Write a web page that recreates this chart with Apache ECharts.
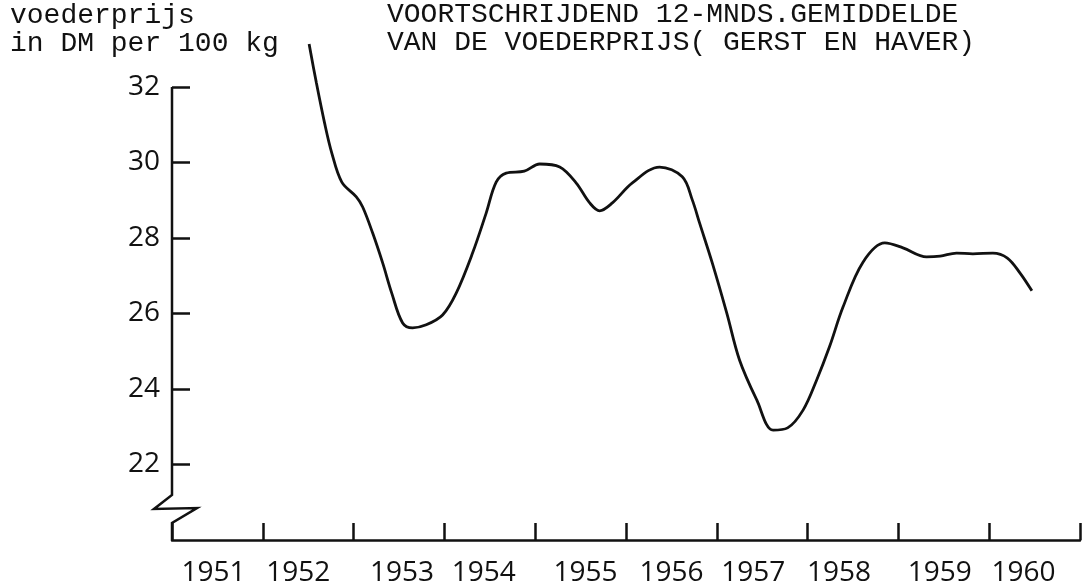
<!DOCTYPE html>
<html>
<head>
<meta charset="utf-8">
<script src="https://cdn.jsdelivr.net/npm/echarts@6/dist/echarts.min.js"></script>
<style>
html,body{margin:0;padding:0;background:#fff;}
#c{width:1082px;height:587px;}
</style>
</head>
<body>
<div id="c"></div>
<script>
// ---- data ----
const yearLabels = ['1951','1952','1953','1954','1955','1956','1957','1958','1959','1960'];
const yTicks = [22, 24, 26, 28, 30, 32];
const time = [1952.51,1952.59,1952.68,1952.76,1952.87,1953.03,1953.10,1953.21,1953.32,1953.42,
  1953.54,1953.65,1953.80,1953.98,1954.13,1954.31,1954.46,1954.57,1954.68,1954.88,
  1955.05,1955.27,1955.45,1955.60,1955.71,1955.85,1956.07,1956.37,1956.62,1956.73,
  1956.81,1956.95,1957.11,1957.25,1957.44,1957.62,1957.78,1957.95,1958.10,1958.24,
  1958.39,1958.61,1958.85,1959.05,1959.31,1959.46,1959.64,1959.82,1960.04,1960.20,
  1960.34,1960.47];
const price = [33.14,32.11,31.05,30.25,29.48,29.09,28.82,28.13,27.34,26.54,
  25.75,25.62,25.70,25.96,26.54,27.60,28.66,29.48,29.72,29.77,
  29.96,29.88,29.46,28.93,28.72,28.93,29.46,29.88,29.62,29.01,
  28.40,27.34,26.01,24.77,23.71,22.91,22.97,23.44,24.24,25.11,
  26.17,27.36,27.87,27.74,27.50,27.52,27.60,27.58,27.60,27.47,
  27.07,26.60];

// ---- layout (label nudges, px) ----
const labelShift = [-4,-10,3,-6,5,0,-9,-14,-4,-11];

const INK = '#111';
const rich = {};
labelShift.forEach((d, i) => {
  rich['s' + i] = {
    fontFamily: 'Open Sans', fontSize: 28, color: INK,
    padding: d < 0 ? [0, -2 * d, 0, 0] : [0, 0, 0, 2 * d]
  };
});

const chart = echarts.init(document.getElementById('c'), null, {renderer: 'canvas'});
const typeFont = {fontFamily: 'Liberation Mono', fontSize: 28, fontWeight: 'normal', lineHeight: 28, color: INK};

chart.setOption({
  backgroundColor: '#fff',
  animation: false,
  title: [
    {text: 'voederprijs\nin DM per 100 kg', left: 10, top: 2, padding: 0, textStyle: typeFont},
    {text: 'VOORTSCHRIJDEND 12-MNDS.GEMIDDELDE\nVAN DE VOEDERPRIJS( GERST EN HAVER)', left: 387, top: 1, padding: 0, textStyle: typeFont}
  ],
  grid: {left: 172, right: 2, top: 87, bottom: 47, containLabel: false},
  xAxis: [
    {
      type: 'value', min: 1951, max: 1961, interval: 1, position: 'bottom',
      axisLine: {show: true, lineStyle: {color: INK, width: 2.5}},
      axisTick: {show: true, inside: true, length: 17, lineStyle: {color: INK, width: 2.5}},
      axisLabel: {show: false},
      splitLine: {show: false}
    },
    {
      type: 'category', data: yearLabels, boundaryGap: true, position: 'bottom', offset: 0,
      axisLine: {show: false}, axisTick: {show: false}, splitLine: {show: false},
      axisLabel: {
        show: true, margin: 19, interval: 0,
        formatter: (v, i) => '{s' + i + '|' + v + '}',
        rich: rich
      }
    }
  ],
  yAxis: {
    type: 'value', min: 20, max: 32, interval: 2,
    axisLine: {show: false},
    axisTick: {show: true, inside: true, length: 18, lineStyle: {color: INK, width: 2.5}},
    axisLabel: {
      show: true, margin: 12, showMinLabel: false,
      fontFamily: 'Open Sans', fontSize: 28, color: INK,
      formatter: v => (yTicks.indexOf(v) >= 0 ? String(v) : '')
    },
    splitLine: {show: false}
  },
  series: [{
    type: 'line', xAxisIndex: 0, yAxisIndex: 0,
    data: time.map((t, i) => [t, price[i]]),
    smooth: 0.35, showSymbol: false, symbol: 'none', clip: false,
    lineStyle: {color: INK, width: 2.8}
  }]
});

// y-axis line with the scale-break zigzag (decoration, anchored to the axis)
const pTop = chart.convertToPixel({gridIndex: 0}, [1951, 32]);
const pBot = chart.convertToPixel({gridIndex: 0}, [1951, 20]);
const x0 = pTop[0], yb = pBot[1];
chart.setOption({
  graphic: [{
    type: 'polyline', silent: true,
    shape: {points: [[x0, pTop[1]], [x0, yb - 45], [x0 - 18, yb - 31], [x0 + 25, yb - 32], [x0, yb - 17], [x0, yb]]},
    style: {stroke: INK, lineWidth: 2.5, fill: null, lineJoin: 'miter'}
  }]
});
</script>
</body>
</html>
